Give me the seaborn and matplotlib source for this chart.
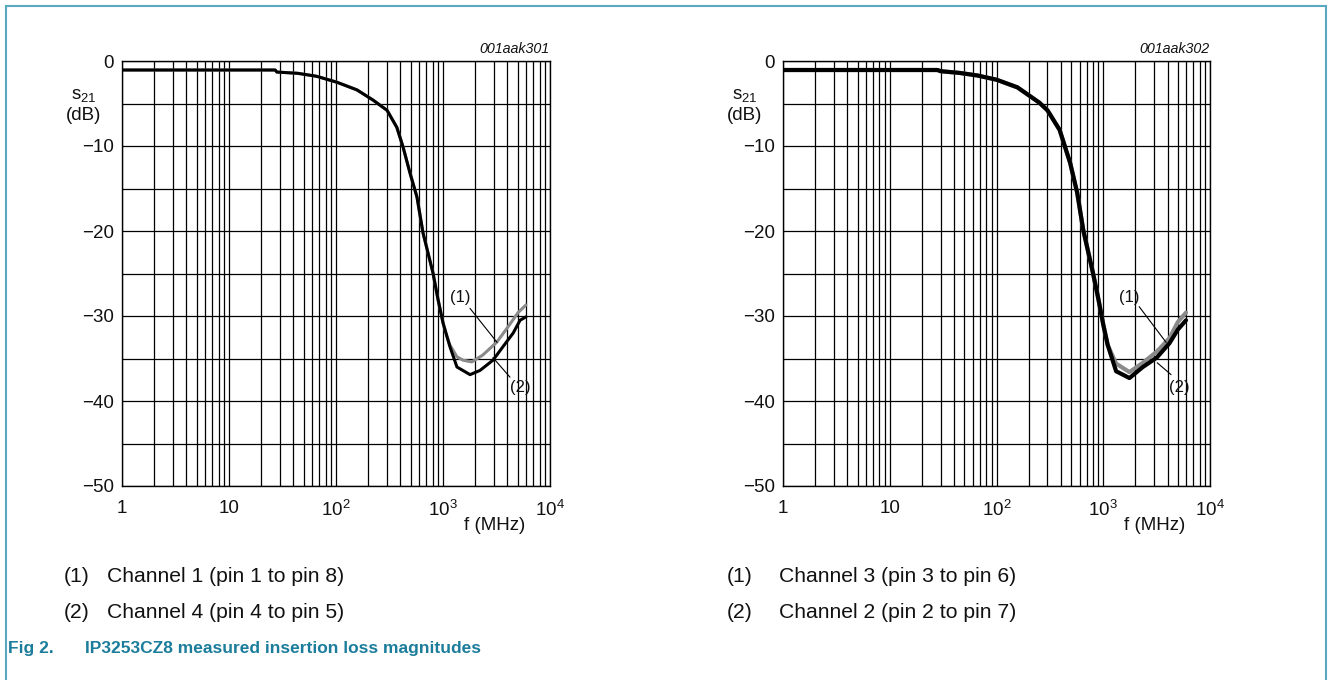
import numpy as np
import pandas as pd
import matplotlib
matplotlib.use("Agg")
import matplotlib.pyplot as plt
from matplotlib.lines import Line2D
import seaborn as sns

# ---------------- data ----------------
# left panel (IP3253CZ8 channels 1 & 4)
left_common_f = [1, 27, 28, 44, 66, 102, 157, 222, 300, 370, 423, 492, 571, 650, 805, 900, 1000, 1100]
left_common_db = [-1.06, -1.06, -1.3, -1.45, -1.8, -2.5, -3.4, -4.6, -5.8, -7.8, -10.1, -13.2, -16.0, -20.2, -24.9, -28.1, -30.8, -32.6]
left_ch1_f = [1100, 1160, 1350, 1540, 1860, 2350, 3170, 4040, 5030, 5960]
left_ch1_db = [-32.6, -33.4, -34.8, -35.2, -35.4, -34.6, -33.1, -31.3, -29.6, -28.7]
left_ch4_f = [1100, 1160, 1350, 1790, 2220, 2930, 3640, 4530, 5250, 5960]
left_ch4_db = [-32.6, -33.6, -36.0, -36.9, -36.4, -35.2, -33.6, -32.0, -30.5, -30.1]

# right panel (channels 3 & 2)
right_common_f = [1, 28, 30, 45, 66, 100, 157, 252, 300, 390, 490, 570, 650, 800, 900, 1000, 1100]
right_common_db = [-1.06, -1.06, -1.2, -1.4, -1.7, -2.2, -3.1, -4.9, -5.8, -8.1, -12.0, -15.5, -19.9, -24.9, -28.0, -31.0, -33.4]
right_ch3_f = [1100, 1320, 1760, 2350, 3170, 4170, 5000, 5960]
right_ch3_db = [-33.4, -35.6, -36.6, -35.5, -34.2, -32.6, -30.7, -29.6]
right_ch2_f = [1100, 1320, 1760, 2350, 3170, 4170, 5000, 5960]
right_ch2_db = [-33.6, -36.5, -37.3, -36.0, -34.9, -33.2, -31.6, -30.5]

x_ticks = [1, 10, 100, 1000, 10000]
x_tick_labels = ["1", "10", "$10^2$", "$10^3$", "$10^4$"]
y_ticks = [0, -10, -20, -30, -40, -50]
y_tick_labels = ["0", "\u221210", "\u221220", "\u221230", "\u221240", "\u221250"]

left_codes = "001aak301"
right_codes = "001aak302"
left_notes = ["(1)", "Channel 1 (pin 1 to pin 8)", "(2)", "Channel 4 (pin 4 to pin 5)"]
right_notes = ["(1)", "Channel 3 (pin 3 to pin 6)", "(2)", "Channel 2 (pin 2 to pin 7)"]
caption_num = "Fig 2."
caption_text = "IP3253CZ8 measured insertion loss magnitudes"

# ---------------- style ----------------
sns.set_style("white")
plt.rcParams["font.family"] = ["Liberation Sans", "DejaVu Sans"]
plt.rcParams["mathtext.fontset"] = "custom"
plt.rcParams["mathtext.rm"] = "Liberation Sans"
plt.rcParams["mathtext.it"] = "Liberation Sans:italic"

W, H = 1328, 680
fig = plt.figure(figsize=(W / 100, H / 100), dpi=100)
fig.patch.set_facecolor("white")

teal = "#1b7d9b"
border = "#5aa7c0"
GRAY = "#8a8a8a"
TXT = "#111111"


def fx(px):
    return px / W


def fy(py):
    return 1 - py / H


def make_panel(x0, x1, common_f, common_db, a_f, a_db, b_f, b_db, code, lw, ann):
    ax = fig.add_axes([fx(x0), fy(486), fx(x1) - fx(x0), fy(61) - fy(486)])
    ax.set_xscale("log")
    ax.set_xlim(1, 10000)
    ax.set_ylim(-50, 0)
    minor = [m * 10 ** d for d in range(4) for m in range(2, 10)]
    ax.set_xticks(x_ticks)
    ax.set_xticklabels(x_tick_labels, fontsize=13.5, color=TXT)
    ax.set_xticks(minor, minor=True)
    ax.set_xticklabels([], minor=True)
    ax.set_yticks(y_ticks)
    ax.set_yticklabels(y_tick_labels, fontsize=13.5, color=TXT)
    ax.set_yticks([-5, -15, -25, -35, -45], minor=True)
    ax.tick_params(axis="y", which="both", length=0, pad=6)
    ax.tick_params(axis="x", which="both", length=0, pad=10)
    ax.grid(True, which="both", color="black", lw=0.9)
    for s in ax.spines.values():
        s.set_color("black")
        s.set_linewidth(1.0)

    df_a = pd.DataFrame({"f": common_f + a_f[1:], "db": common_db + a_db[1:]})
    df_b = pd.DataFrame({"f": common_f + b_f[1:], "db": common_db + b_db[1:]})
    sns.lineplot(data=df_a, x="f", y="db", ax=ax, color=GRAY, lw=lw, sort=False)
    sns.lineplot(data=df_b, x="f", y="db", ax=ax, color="black", lw=lw, sort=False)
    ax.set_xlabel("")
    ax.set_ylabel("")

    ax.text(1.0, 1.012, code, transform=ax.transAxes, ha="right", va="bottom",
            fontsize=10.3, style="italic", color=TXT)
    ax.text(-0.089, 0.918, "$\\mathregular{s_{21}}$", transform=ax.transAxes,
            ha="center", va="center", fontsize=13.5, color=TXT)
    ax.text(-0.089, 0.872, "(dB)", transform=ax.transAxes,
            ha="center", va="center", fontsize=13.5, color=TXT)
    ax.text(0.87, -0.092, "f (MHz)", transform=ax.transAxes,
            ha="center", va="center", fontsize=13.5, color=TXT)

    (t1, s1, e1), (t2, s2, e2) = ann
    ax.text(t1[0], t1[1], "(1)", ha="center", va="center", fontsize=12, color=TXT)
    ax.plot([s1[0], e1[0]], [s1[1], e1[1]], color="black", lw=0.8)
    ax.text(t2[0], t2[1], "(2)", ha="center", va="center", fontsize=12, color=TXT)
    ax.plot([s2[0], e2[0]], [s2[1], e2[1]], color="black", lw=0.8)
    return ax


make_panel(122, 550, left_common_f, left_common_db, left_ch1_f, left_ch1_db,
           left_ch4_f, left_ch4_db, left_codes, 2.2,
           [((1442, -27.8), (1787, -29.1), (3200, -33.1)),
            ((5250, -38.4), (4230, -37.2), (2930, -34.9))])
make_panel(783, 1210, right_common_f, right_common_db, right_ch3_f, right_ch3_db,
           right_ch2_f, right_ch2_db, right_codes, 3.0,
           [((1750, -27.8), (2170, -28.9), (3880, -33.1)),
            ((5130, -38.4), (4320, -36.9), (3200, -35.5))])

# notes under panels
notes_pos = [(left_notes, 64, 107), (right_notes, 727, 779)]
for notes, xa, xb in notes_pos:
    fig.text(fx(xa), fy(577), notes[0], ha="left", va="center", fontsize=15.2, color=TXT)
    fig.text(fx(xb), fy(577), notes[1], ha="left", va="center", fontsize=15.2, color=TXT)
    fig.text(fx(xa), fy(612), notes[2], ha="left", va="center", fontsize=15.2, color=TXT)
    fig.text(fx(xb), fy(612), notes[3], ha="left", va="center", fontsize=15.2, color=TXT)

fig.text(fx(8), fy(648), caption_num, ha="left", va="center", fontsize=12.5,
         fontweight="bold", color=teal)
fig.text(fx(85), fy(648), caption_text, ha="left", va="center", fontsize=12.5,
         fontweight="bold", color=teal)

# frame
for xs, ys in [([5.5, 5.5], [H, 5.5]), ([5.5, 1325.5], [5.5, 5.5]), ([1325.5, 1325.5], [5.5, H])]:
    fig.add_artist(Line2D([fx(x) for x in xs], [fy(y) for y in ys], color=border, lw=1.5,
                          transform=fig.transFigure))

fig.savefig("out.png", dpi=100, facecolor="white")
